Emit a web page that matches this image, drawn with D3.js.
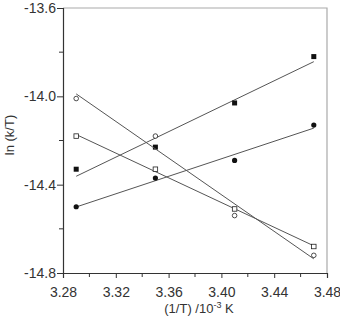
<!DOCTYPE html>
<html lang="en">
<head>
<meta charset="UTF-8">
<title>ln(k/T) vs 1/T</title>
<script src="https://cdn.jsdelivr.net/npm/d3@7"></script>
<style>
  body { margin: 0; background: #fff; font-family: "Liberation Sans", Arial, sans-serif; }
  .tick text { font-size: 14px; fill: #333; }
</style>
</head>
<body>
<div id="chart"></div>
<script>
// values
const invT = [3.29, 3.35, 3.41, 3.47];
const filledSquares = [-14.33, -14.23, -14.03, -13.82];
const filledCircles = [-14.50, -14.37, -14.29, -14.13];
const openCircles = [-14.01, -14.18, -14.54, -14.72];
const openSquares = [-14.18, -14.33, -14.51, -14.68];
const xTicks = [3.28, 3.32, 3.36, 3.40, 3.44, 3.48];
const yTicks = [-13.6, -14.0, -14.4, -14.8];

const series = [
  { ys: filledSquares, shape: "square", filled: true },
  { ys: filledCircles, shape: "circle", filled: true },
  { ys: openCircles, shape: "circle", filled: false },
  { ys: openSquares, shape: "square", filled: false }
];

const W = 340, H = 317;
const m = { left: 63, right: 13, top: 8, bottom: 44 };

const svg = d3.select("#chart").append("svg").attr("width", W).attr("height", H);

const x = d3.scaleLinear().domain([3.28, 3.48]).range([m.left, W - m.right]);
const y = d3.scaleLinear().domain([-14.8, -13.6]).range([H - m.bottom, m.top]);

// top and right frame in grey
svg.append("path")
  .attr("d", `M${x(3.28)},${y(-13.6)}H${x(3.48)}V${y(-14.8)}`)
  .attr("fill", "none").attr("stroke", "#aaa").attr("stroke-width", 1.2);

// linear fit for each series
function fit(xs, ys) {
  const mx = d3.mean(xs), my = d3.mean(ys);
  const sxy = d3.sum(xs, (v, i) => (v - mx) * (ys[i] - my));
  const sxx = d3.sum(xs, v => (v - mx) * (v - mx));
  const b = sxy / sxx;
  return v => my + b * (v - mx);
}

series.forEach(s => {
  const f = fit(invT, s.ys);
  const x0 = invT[0], x1 = invT[invT.length - 1];
  svg.append("line")
    .attr("x1", x(x0)).attr("y1", y(f(x0)))
    .attr("x2", x(x1)).attr("y2", y(f(x1)))
    .attr("stroke", "#555").attr("stroke-width", 1);

  const pts = svg.append("g");
  invT.forEach((v, i) => {
    if (s.shape === "square") {
      const sz = s.filled ? 5 : 4.5;
      pts.append("rect")
        .attr("x", x(v) - sz / 2).attr("y", y(s.ys[i]) - sz / 2)
        .attr("width", sz).attr("height", sz)
        .attr("fill", s.filled ? "#111" : "#fff")
        .attr("stroke", "#222").attr("stroke-width", s.filled ? 0 : 0.8);
    } else {
      pts.append("circle")
        .attr("cx", x(v)).attr("cy", y(s.ys[i]))
        .attr("r", s.filled ? 2.6 : 2.3)
        .attr("fill", s.filled ? "#111" : "#fff")
        .attr("stroke", "#222").attr("stroke-width", s.filled ? 0 : 0.8);
    }
  });
});

// axes (plain hyphen for the minus sign, as in the original)
const hy = f => d => f(d).replace("\u2212", "-");
const xAxis = d3.axisBottom(x).tickValues(xTicks).tickFormat(hy(d3.format(".2f"))).tickSize(5).tickPadding(9);
const yAxis = d3.axisLeft(y).tickValues(yTicks).tickFormat(hy(d3.format(".1f"))).tickSize(6).tickPadding(1);

const gx = svg.append("g").attr("transform", `translate(0,${H - m.bottom})`).call(xAxis);
const gy = svg.append("g").attr("transform", `translate(${m.left},0)`).call(yAxis);

// minor ticks
gx.selectAll(".minor").data(d3.range(3.30, 3.47, 0.04)).enter().append("line")
  .attr("x1", d => x(d)).attr("x2", d => x(d)).attr("y1", 0).attr("y2", 4)
  .attr("stroke", "#333");
gy.selectAll(".minor").data([-13.8, -14.2, -14.6]).enter().append("line")
  .attr("y1", d => y(d)).attr("y2", d => y(d)).attr("x1", 0).attr("x2", -4)
  .attr("stroke", "#333");

[gx, gy].forEach(g => {
  g.select(".domain").attr("stroke", "#333").attr("stroke-width", 1.2);
  g.selectAll(".tick line").attr("stroke", "#333");
  g.selectAll("text").attr("font-family", "Liberation Sans, Arial, sans-serif");
});

// axis titles
const xt = svg.append("text")
  .attr("x", 199).attr("y", 313)
  .attr("text-anchor", "middle").attr("font-size", 13).attr("fill", "#333");
xt.append("tspan").text("(1/T) /10");
xt.append("tspan").attr("dy", -5).attr("font-size", 9).text("-3");
xt.append("tspan").attr("dy", 5).text(" K");

svg.append("text")
  .attr("transform", `translate(14,135) rotate(-90)`)
  .attr("text-anchor", "middle").attr("font-size", 13).attr("fill", "#333")
  .text("ln (k/T)");
</script>
</body>
</html>
